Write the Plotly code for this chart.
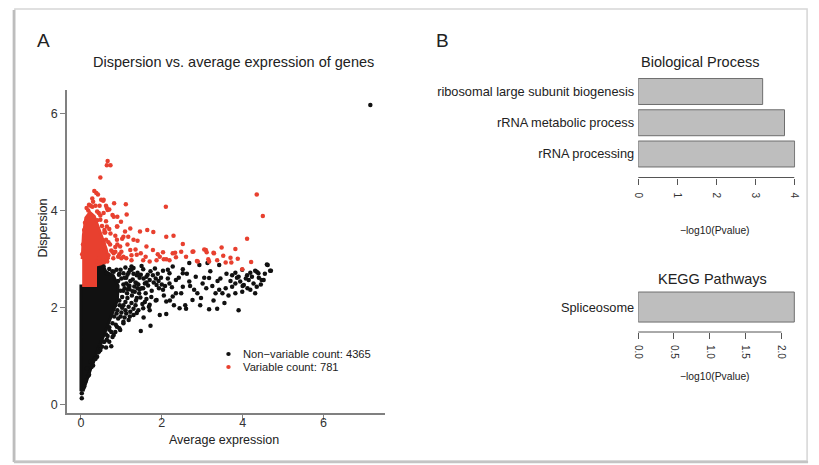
import plotly.graph_objects as go

W, H = 819, 465
FONT = "Liberation Sans, Arial, sans-serif"

# ---------------- Panel A data ----------------
black_core_x = [0.00, 0.00, 0.37, 0.37, 0.55, 0.62, 0.80, 0.92, 0.90, 0.72, 0.55, 0.36, 0.21, 0.10, 0.05]
black_core_y = [0.28, 2.45, 2.45, 2.86, 2.86, 2.74, 2.66, 2.45, 2.15, 1.75, 1.40, 1.03, 0.68, 0.41, 0.28]
red_core_x = [0.03, 0.36, 0.36, 0.58, 0.68, 0.62, 0.52, 0.42, 0.33, 0.22, 0.12, 0.06, 0.03]
red_core_y = [2.46, 2.46, 2.88, 2.92, 3.02, 3.22, 3.45, 3.68, 3.88, 3.96, 3.85, 3.50, 3.00]

black_x = [7.16,
           1.21, 1.54, 1.83, 2.03, 2.27, 2.52, 2.68, 2.93, 3.13, 3.42, 3.82, 3.99, 4.19, 4.31, 4.39,
           4.60, 4.68, 3.74, 3.90, 4.11, 4.23, 2.52, 2.19, 1.78, 1.62, 1.38, 1.05, 0.81, 0.56, 0.64,
           3.42, 3.58, 3.74, 3.82, 3.94, 4.03, 4.15, 4.27, 4.35, 4.47, 4.19, 3.99, 3.82, 4.31, 3.33,
           3.50, 4.62, 4.70, 4.35, 4.52, 4.08, 4.40,
           1.38, 1.54, 1.70, 1.87, 2.03, 2.19, 2.35, 2.52, 2.68, 2.84, 3.01, 3.17, 2.80, 2.97, 2.76,
           2.27, 2.11, 1.87, 1.70, 1.54, 1.38, 1.21, 1.05, 0.89, 0.97, 0.81, 0.64, 0.75, 0.48, 0.40,
           0.30, 0.24, 3.90, 3.17, 3.37, 2.44, 2.60, 1.95, 2.11, 1.72, 1.48, 0.02, 0.02,
           1.12, 1.20, 1.28, 1.33, 1.42, 1.47, 1.55, 1.60, 1.66, 1.74, 1.80, 1.93, 1.98, 1.15, 1.25,
           1.35, 1.10, 1.18, 1.40, 1.72, 1.90, 2.15, 2.25, 2.35, 2.42, 2.62, 2.70, 2.88, 3.05, 3.25,
           3.20, 3.45, 3.60, 3.65, 3.55, 3.28, 2.95, 2.30, 2.05, 1.05, 0.98, 0.92, 0.95, 1.02, 1.08,
           0.88, 0.85, 0.70, 0.75, 0.66, 0.58, 0.52, 0.45, 0.35, 0.28, 0.18, 0.12, 0.08, 0.15,
           1.30, 1.50, 1.62, 1.85, 1.10, 1.25, 0.94, 1.16, 1.38, 1.58, 2.00, 2.48, 2.58, 3.10,
           3.38, 3.70, 4.00, 4.45, 4.55, 4.12, 3.86, 2.20, 1.68, 1.45,
           0.95, 1.00, 1.05, 0.98, 1.02, 0.96, 0.90, 0.82, 0.78, 0.70, 0.62, 0.55, 0.48, 0.42,
           0.36, 0.30, 0.26, 0.20, 1.12, 1.15, 1.22, 1.08, 1.14, 1.20, 1.10, 1.18, 1.00, 0.92,
           0.86, 0.70, 0.78, 0.88, 1.30, 1.26, 1.32, 1.45, 1.50, 1.36, 1.44, 1.22, 1.30,
           1.35, 1.48, 1.58, 1.62, 1.52, 1.42, 1.30, 1.18, 1.05, 0.95, 0.85, 0.78, 0.70, 0.62,
           1.75, 1.85, 1.92, 2.08, 2.15, 1.65, 1.25, 1.08, 1.18, 1.28, 1.40, 1.05, 1.12, 0.98,
           1.70, 1.55]
black_y = [6.17,
           2.78, 2.79, 2.81, 2.76, 2.85, 2.79, 2.92, 2.88, 2.92, 2.88, 2.72, 2.78, 2.72, 2.76, 2.71,
           2.89, 2.76, 2.67, 2.64, 2.67, 2.64, 2.71, 2.71, 2.67, 2.64, 2.67, 2.71, 2.74, 2.85, 2.71,
           2.37, 2.40, 2.43, 2.50, 2.54, 2.47, 2.57, 2.50, 2.43, 2.57, 2.37, 2.33, 2.30, 2.30, 2.30,
           2.30, 2.88, 2.76, 2.74, 2.57, 2.60, 2.62,
           2.50, 2.40, 2.57, 2.47, 2.37, 2.50, 2.57, 2.43, 2.54, 2.64, 2.50, 2.61, 2.37, 2.20, 2.16,
           2.23, 2.13, 2.16, 2.06, 1.99, 1.89, 1.82, 1.71, 1.61, 1.54, 1.44, 1.34, 1.21, 1.13, 0.99,
           0.81, 0.89, 1.95, 1.97, 1.98, 1.99, 1.98, 1.85, 1.87, 1.63, 1.52, 0.24, 0.14,
           2.62, 2.45, 2.58, 2.33, 2.48, 2.21, 2.60, 2.30, 2.46, 2.22, 2.52, 2.40, 2.62, 2.20, 2.10,
           2.05, 1.95, 2.72, 2.72, 2.75, 2.70, 2.60, 2.42, 2.30, 2.62, 2.70, 2.45, 2.30, 2.62, 2.45,
           2.75, 2.60, 2.70, 2.25, 2.10, 2.15, 2.05, 2.05, 2.25, 2.35, 2.78, 2.55, 2.15, 2.00, 1.80,
           1.88, 2.05, 1.60, 1.50, 1.42, 1.30, 1.20, 1.10, 0.95, 0.85, 0.60, 0.50, 0.38, 0.75,
           2.82, 2.86, 2.52, 2.60, 2.83, 2.85, 2.68, 2.38, 2.20, 2.12, 2.48, 2.30, 2.05, 2.40,
           2.55, 2.55, 2.45, 2.48, 2.70, 2.40, 2.62, 2.15, 2.02, 2.38,
           2.70, 2.60, 2.48, 2.35, 2.22, 2.05, 1.95, 1.82, 1.68, 1.55, 1.45, 1.30, 1.22, 1.08,
           0.95, 0.90, 0.78, 0.62, 2.50, 2.68, 2.55, 2.40, 2.30, 2.38, 2.12, 2.02, 1.90, 1.78,
           1.65, 2.80, 2.75, 2.78, 2.70, 2.25, 2.44, 2.62, 2.40, 2.15, 2.30, 1.92, 1.98,
           2.52, 2.68, 2.50, 2.18, 2.08, 1.95, 1.85, 1.75, 1.68, 1.58, 1.50, 1.40, 1.30, 1.18,
           2.35, 2.15, 2.55, 2.45, 2.78, 2.68, 2.78, 2.62, 2.46, 2.34, 2.40, 2.05, 1.88, 1.82,
           1.95, 1.80]

red_x = [0.66, 0.73, 0.64, 0.48, 0.33, 0.42, 0.38, 1.11, 2.10, 0.82, 0.55, 0.62, 0.70, 1.13,
         4.35, 4.50, 4.11, 1.46, 1.64, 1.79, 2.11, 2.29, 3.48, 3.82, 4.21, 3.99, 3.58, 3.70, 3.72,
         2.52, 2.76, 3.09, 3.29, 2.03, 2.33, 2.48, 2.78, 3.05, 3.11, 3.28, 2.11, 2.35, 2.60, 2.87,
         3.15, 3.52, 3.88, 2.89, 3.17, 3.37,
         0.81, 1.09, 0.64, 0.56, 0.40, 0.64, 0.89, 0.73, 1.17, 1.30, 1.62, 1.78, 1.95, 2.27,
         0.97, 1.22, 1.38, 1.05, 1.54, 1.70, 1.87, 2.19, 0.81, 0.89, 0.56, 1.05, 0.48, 1.22,
         0.50, 0.66, 0.78, 0.90, 0.99, 0.90, 0.24, 0.30, 0.20, 0.28, 0.44, 0.58, 0.68, 0.85,
         0.95, 1.40, 1.25, 0.78, 0.60, 0.50, 1.00,
         0.68, 0.75, 0.72, 0.62, 0.58, 0.52, 0.48, 0.40, 0.36, 0.28, 0.18, 0.14, 0.10, 0.08,
         0.05, 0.03, 0.80, 0.85, 0.92, 1.00, 1.12, 1.25, 1.35, 1.48, 1.60, 1.90, 2.05, 0.40,
         0.45, 0.55, 0.65, 0.90, 1.15, 1.02, 0.85, 0.70, 0.62, 0.56, 0.46]
red_y = [5.02, 4.93, 4.93, 4.68, 4.40, 4.33, 4.36, 4.13, 4.08, 4.15, 4.20, 4.10, 4.02, 3.92,
         4.33, 3.89, 3.42, 3.57, 3.60, 3.56, 3.46, 3.48, 3.24, 3.21, 2.94, 2.79, 2.93, 3.03, 2.93,
         3.31, 3.15, 3.19, 3.12, 3.14, 3.13, 3.15, 3.16, 3.20, 3.14, 3.13, 3.00, 3.04, 3.05, 2.96,
         3.00, 3.07, 3.01, 2.95, 2.95, 2.98,
         3.87, 3.57, 3.67, 3.33, 3.80, 4.05, 3.67, 3.53, 3.46, 3.40, 3.26, 3.19, 3.05, 3.12,
         3.26, 3.19, 3.09, 3.05, 2.98, 2.95, 2.98, 2.98, 3.12, 3.40, 4.22, 3.46, 3.81, 3.63,
         4.22, 4.01, 3.91, 3.87, 3.77, 3.67, 4.10, 4.18, 4.12, 4.25, 3.95, 3.60, 3.35, 3.25,
         3.10, 3.38, 2.98, 3.15, 3.55, 3.20, 3.02,
         3.08, 3.18, 3.30, 3.40, 3.55, 3.68, 3.90, 3.98, 4.10, 4.08, 4.00, 4.05, 3.75, 3.60,
         3.30, 3.10, 3.02, 3.15, 3.05, 3.15, 3.02, 3.08, 3.20, 3.12, 3.05, 3.10, 3.00, 2.95,
         3.02, 2.98, 2.95, 3.30, 3.30, 3.42, 3.48, 3.62, 3.78, 3.95, 4.10]

legend_labels = ["Non\u2212variable count: 4365", "Variable count: 781"]

# ---------------- Panel B data ----------------
bp_terms = ["rRNA processing", "rRNA metabolic process", "ribosomal large subunit biogenesis"]
bp_vals = [4.01, 3.75, 3.19]
bp_ticks = [0, 1, 2, 3, 4]
bp_ticktext = ["0", "1", "2", "3", "4"]

kegg_terms = ["Spliceosome"]
kegg_vals = [2.18]
kegg_ticks = [0, 0.5, 1.0, 1.5, 2.0]
kegg_ticktext = ["0.0", "0.5", "1.0", "1.5", "2.0"]

BLACK = "#111111"
RED = "#E8402F"
AX = "#808080"
BARFILL = "#BEBEBE"


def px(x):
    return x / W


def py(y):
    return 1 - y / H


fig = go.Figure()

# dense cores
fig.add_trace(go.Scatter(x=black_core_x, y=black_core_y, mode="lines", fill="toself",
                         fillcolor=BLACK, line=dict(color=BLACK, width=3),
                         xaxis="x", yaxis="y", hoverinfo="skip", showlegend=False))
fig.add_trace(go.Scatter(x=red_core_x, y=red_core_y, mode="lines", fill="toself",
                         fillcolor=RED, line=dict(color=RED, width=3),
                         xaxis="x", yaxis="y", hoverinfo="skip", showlegend=False))
fig.add_trace(go.Scatter(x=black_x, y=black_y, mode="markers",
                         marker=dict(color=BLACK, size=4.5, line=dict(width=0)),
                         xaxis="x", yaxis="y", showlegend=False))
fig.add_trace(go.Scatter(x=red_x, y=red_y, mode="markers",
                         marker=dict(color=RED, size=4.5, line=dict(width=0)),
                         xaxis="x", yaxis="y", showlegend=False))

# bars
fig.add_trace(go.Bar(x=bp_vals, y=bp_terms, orientation="h", width=0.83,
                     marker=dict(color=BARFILL, line=dict(color="#6e6e6e", width=1)),
                     xaxis="x2", yaxis="y2", showlegend=False))
fig.add_trace(go.Bar(x=kegg_vals, y=kegg_terms, orientation="h", width=0.83,
                     marker=dict(color=BARFILL, line=dict(color="#6e6e6e", width=1)),
                     xaxis="x3", yaxis="y3", showlegend=False))

tickfont = dict(family=FONT, size=12.5, color="#333333")
smallfont = dict(family=FONT, size=10, color="#333333")

fig.update_layout(
    width=W, height=H, margin=dict(l=0, r=0, t=0, b=0),
    paper_bgcolor="white", plot_bgcolor="white",
    font=dict(family=FONT, color="#222222"),
    showlegend=False,
    xaxis=dict(domain=[px(63), px(385)], range=[-0.34, 7.53], anchor="y",
               tickvals=[0, 2, 4, 6], ticktext=["0", "2", "4", "6"],
               showline=True, linecolor=AX, linewidth=2, ticks="outside", ticklen=5,
               tickcolor=AX, tickwidth=1, showgrid=False, zeroline=False, tickfont=tickfont,
               ticklabelstandoff=-8),
    yaxis=dict(domain=[py(413), py(90)], range=[-0.165, 6.48], anchor="x",
               tickvals=[0, 2, 4, 6], ticktext=["0", "2", "4", "6"],
               showline=True, linecolor=AX, linewidth=2, ticks="outside", ticklen=5,
               tickcolor=AX, tickwidth=1, showgrid=False, zeroline=False, tickfont=tickfont),
    xaxis2=dict(domain=[px(641), px(800)], range=[0, 4.025], anchor="y2",
                tickvals=bp_ticks, ticktext=bp_ticktext, tickangle=90,
                showline=False, ticks="outside", ticklen=6, tickcolor="#555555",
                showgrid=False, zeroline=False, tickfont=smallfont, ticklabelstandoff=6),
    yaxis2=dict(domain=[py(177.5), py(75)], range=[-0.752, 2.528], anchor="x2",
                type="category", categoryorder="array", categoryarray=bp_terms,
                showline=False, ticks="", showgrid=False, zeroline=False,
                ticklabelstandoff=3,
                tickfont=dict(family=FONT, size=12.8, color="#222222")),
    xaxis3=dict(domain=[px(641), px(800)], range=[0, 2.193], anchor="y3",
                tickvals=kegg_ticks, ticktext=kegg_ticktext, tickangle=90,
                showline=False, ticks="outside", ticklen=6, tickcolor="#555555",
                showgrid=False, zeroline=False, tickfont=smallfont, ticklabelstandoff=4),
    yaxis3=dict(domain=[py(332), py(288)], range=[-0.69, 0.526], anchor="x3",
                type="category", categoryorder="array", categoryarray=kegg_terms,
                showline=False, ticks="", showgrid=False, zeroline=False,
                ticklabelstandoff=3,
                tickfont=dict(family=FONT, size=12.8, color="#222222")),
)

shapes = []
# axis lines of the bar charts spanning first..last tick
shapes.append(dict(type="line", xref="x2", yref="paper", x0=bp_ticks[0], x1=bp_ticks[-1],
                   y0=py(177.5), y1=py(177.5), line=dict(color="#555555", width=1)))
shapes.append(dict(type="line", xref="x3", yref="paper", x0=kegg_ticks[0], x1=kegg_ticks[-1],
                   y0=py(332), y1=py(332), line=dict(color="#555555", width=1)))
# legend dots
for cy, col in [(354, BLACK), (367, RED)]:
    shapes.append(dict(type="circle", xref="paper", yref="paper",
                       x0=px(224), x1=px(228.5), y0=py(cy + 2), y1=py(cy - 2),
                       fillcolor=col, line=dict(width=0)))
# frame / shadow
shapes.append(dict(type="rect", xref="paper", yref="paper", x0=px(10), x1=px(812),
                   y0=py(461), y1=py(9), line=dict(color="#d6d6d6", width=1.5)))
shapes.append(dict(type="line", xref="paper", yref="paper", x0=px(9), x1=px(9),
                   y0=py(462), y1=py(10), line=dict(color="#bdbdbd", width=2.5)))
shapes.append(dict(type="line", xref="paper", yref="paper", x0=px(9), x1=px(813),
                   y0=py(462), y1=py(462), line=dict(color="#c4c4c4", width=2.5)))
fig.update_layout(shapes=shapes)


def ann(text, x, y, size, xanchor="center", angle=0, color="#222222"):
    return dict(text=text, x=px(x), y=py(y), xref="paper", yref="paper",
                xanchor=xanchor, yanchor="middle", showarrow=False, textangle=angle,
                font=dict(family=FONT, size=size, color=color))


annotations = [
    ann("A", 39, 40, 19),
    ann("B", 443, 40, 19),
    ann("Dispersion vs. average expression of genes", 231, 62, 14.5),
    ann("Average expression", 222, 439.5, 12.5),
    ann("Dispersion", 38, 228, 12.5, angle=-90),
    ann(legend_labels[0], 238.5, 354, 11.2, xanchor="left"),
    ann(legend_labels[1], 238.5, 367, 11.2, xanchor="left"),
    ann("Biological Process", 703.5, 62, 14.5),
    ann("KEGG Pathways", 716.5, 278.5, 14.5),
    ann("\u2212log10(Pvalue)", 719, 230, 10.3),
    ann("\u2212log10(Pvalue)", 719, 376, 10.3),
]
fig.update_layout(annotations=annotations)

fig.write_html("out.html")
